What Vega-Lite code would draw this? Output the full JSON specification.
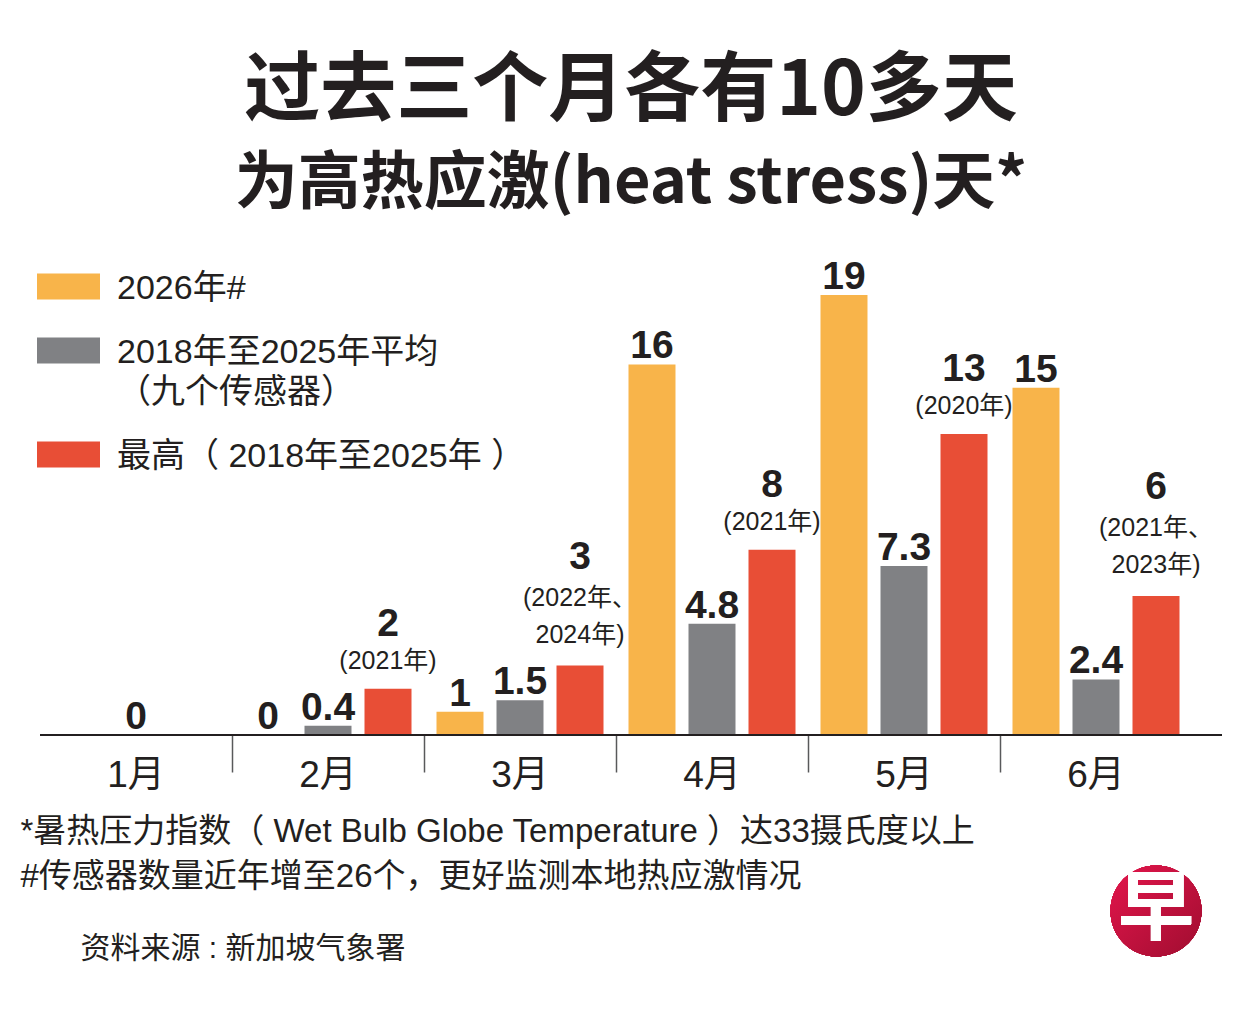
{
  "$schema": "https://vega.github.io/schema/vega-lite/v6.json",
  "width": 1182,
  "height": 440,
  "autosize": {"type": "none"},
  "padding": {"left": 40, "top": 295, "right": 29, "bottom": 276},
  "background": "white",
  "config": {"view": {"stroke": null}},
  "title": {
    "text": "过去三个月各有10多天",
    "subtitle": "为高热应激(heat stress)天*",
    "anchor": "middle",
    "frame": "group",
    "offset": 38,
    "font": "Noto Sans CJK SC",
    "fontSize": 76,
    "fontWeight": "bold",
    "color": "#231F20",
    "subtitleFont": "Noto Sans CJK SC",
    "subtitleFontSize": 63,
    "subtitleFontWeight": "bold",
    "subtitleColor": "#231F20",
    "subtitlePadding": 22
  },
  "data": {
    "values": [
      {"month": "1月", "series": "avg", "days": 0},
      {"month": "2月", "series": "2026", "days": 0},
      {"month": "2月", "series": "avg", "days": 0.4},
      {"month": "2月", "series": "max", "days": 2, "note": "(2021年)"},
      {"month": "3月", "series": "2026", "days": 1},
      {"month": "3月", "series": "avg", "days": 1.5},
      {"month": "3月", "series": "max", "days": 3, "note": "(2022年、\n2024年)"},
      {"month": "4月", "series": "2026", "days": 16},
      {"month": "4月", "series": "avg", "days": 4.8},
      {"month": "4月", "series": "max", "days": 8, "note": "(2021年)"},
      {"month": "5月", "series": "2026", "days": 19},
      {"month": "5月", "series": "avg", "days": 7.3},
      {"month": "5月", "series": "max", "days": 13, "note": "(2020年)"},
      {"month": "6月", "series": "2026", "days": 15},
      {"month": "6月", "series": "avg", "days": 2.4},
      {"month": "6月", "series": "max", "days": 6, "note": "(2021年、\n2023年)"}
    ]
  },
  "encoding": {
    "x": {
      "field": "month",
      "type": "ordinal",
      "scale": {"domain": ["1月", "2月", "3月", "4月", "5月", "6月"], "range": [0, 1152], "paddingInner": 0, "paddingOuter": 0},
      "axis": {
        "domain": false,
        "bandPosition": 0,
        "tickSize": 37,
        "tickColor": "#58595B",
        "tickWidth": 1.5,
        "tickOpacity": {"expr": "datum.value == '1月' ? 0 : 1"},
        "labelPadding": -15,
        "labelFont": "Liberation Sans, Noto Sans CJK SC",
        "labelFontSize": 37,
        "labelColor": "#231F20",
        "labelAngle": 0,
        "title": ["*暑热压力指数（ Wet Bulb Globe Temperature ）达33摄氏度以上", "#传感器数量近年增至26个，更好监测本地热应激情况"],
        "titleAnchor": "start",
        "titleAlign": "left",
        "titleBaseline": "top",
        "titleX": -20,
        "titleY": 80,
        "titleFont": "Liberation Sans, Noto Sans CJK SC",
        "titleFontSize": 33,
        "titleFontWeight": "normal",
        "titleLineHeight": 45,
        "titleColor": "#231F20"
      }
    },
    "xOffset": {
      "field": "series",
      "type": "nominal",
      "scale": {"domain": ["2026", "avg", "max"], "paddingInner": 0.2167, "paddingOuter": 0.2083}
    },
    "y": {
      "field": "days",
      "type": "quantitative",
      "scale": {"domain": [0, 19], "nice": false, "zero": true},
      "axis": {
        "domain": false,
        "ticks": false,
        "labels": false,
        "grid": false,
        "title": "资料来源 : 新加坡气象署",
        "titleAngle": 0,
        "titleAlign": "left",
        "titleBaseline": "middle",
        "titleX": 40,
        "titleY": 653,
        "titleFont": "Liberation Sans, Noto Sans CJK SC",
        "titleFontSize": 30,
        "titleFontWeight": "normal",
        "titleColor": "#231F20"
      }
    }
  },
  "layer": [
    {
      "mark": {"type": "bar"},
      "encoding": {
        "color": {
          "field": "series",
          "type": "nominal",
          "scale": {"domain": ["2026", "avg", "max"], "range": ["#F8B44A", "#808184", "#E84E36"]},
          "legend": {
            "orient": "none",
            "legendX": -3,
            "legendY": -40,
            "title": null,
            "symbolType": "M-1,-0.41L1,-0.41L1,0.41L-1,0.41Z",
            "symbolSize": 3969,
            "symbolStrokeWidth": 0,
            "symbolOpacity": 1,
            "labelOffset": 17,
            "labelFont": "Liberation Sans, Noto Sans CJK SC",
            "labelFontSize": 34,
            "labelColor": "#231F20",
            "labelLimit": 0,
            "labelBaseline": "alphabetic",
            "rowPadding": 13,
            "labelExpr": "datum.value == '2026' ? '2026年#' : datum.value == 'avg' ? ['2018年至2025年平均', '（九个传感器）'] : '最高（ 2018年至2025年 ）'",
            "encode": {
              "symbols": {"update": {"fill": {"signal": "datum.value == '2026' ? '#F4931F' : datum.value == 'avg' ? '#808184' : '#E84E36'"}}},
              "labels": {"update": {"dy": {"value": 12}, "lineHeight": {"value": 40}}}
            }
          }
        }
      }
    },
    {
      "transform": [{"filter": "!isValid(datum.note)"}],
      "mark": {"type": "text", "baseline": "alphabetic", "dy": -6, "font": "Liberation Sans, Noto Sans CJK SC", "fontSize": 39, "fontWeight": "bold", "color": "#231F20"},
      "encoding": {"text": {"field": "days", "type": "quantitative"}}
    },
    {
      "transform": [{"filter": "isValid(datum.note) && indexof(datum.note, '\\n') < 0"}],
      "mark": {"type": "text", "baseline": "alphabetic", "dy": -53, "font": "Liberation Sans, Noto Sans CJK SC", "fontSize": 39, "fontWeight": "bold", "color": "#231F20"},
      "encoding": {"text": {"field": "days", "type": "quantitative"}}
    },
    {
      "transform": [{"filter": "isValid(datum.note) && indexof(datum.note, '\\n') >= 0"}],
      "mark": {"type": "text", "baseline": "alphabetic", "dy": -97, "font": "Liberation Sans, Noto Sans CJK SC", "fontSize": 39, "fontWeight": "bold", "color": "#231F20"},
      "encoding": {"text": {"field": "days", "type": "quantitative"}}
    },
    {
      "transform": [{"filter": "isValid(datum.note) && indexof(datum.note, '\\n') < 0"}],
      "mark": {"type": "text", "baseline": "bottom", "dy": -15, "font": "Liberation Sans, Noto Sans CJK SC", "fontSize": 25, "color": "#231F20"},
      "encoding": {"text": {"field": "note", "type": "nominal"}}
    },
    {
      "transform": [{"filter": "isValid(datum.note) && indexof(datum.note, '\\n') >= 0"}],
      "mark": {"type": "text", "baseline": "bottom", "dy": -55, "lineBreak": "\n", "lineHeight": 37, "font": "Liberation Sans, Noto Sans CJK SC", "fontSize": 25, "color": "#231F20"},
      "encoding": {"text": {"field": "note", "type": "nominal"}}
    },
    {
      "mark": {"type": "rule", "color": "#231F20", "strokeWidth": 2},
      "encoding": {"y": {"datum": 0}, "x": null, "xOffset": null}
    },
    {
      "mark": {
        "type": "circle",
        "size": 8300,
        "opacity": 1,
        "color": {"gradient": "linear", "x1": 0, "y1": 0, "x2": 1, "y2": 1, "stops": [{"offset": 0, "color": "#E3164C"}, {"offset": 1, "color": "#A00D30"}]}
      },
      "encoding": {"x": {"datum": "6月"}, "xOffset": {"datum": "max"}, "y": {"datum": -7.6}}
    },
    {
      "mark": {"type": "text", "text": "早", "font": "Noto Sans CJK SC", "fontSize": 76, "fontWeight": "bold", "color": "white", "baseline": "middle"},
      "encoding": {"x": {"datum": "6月"}, "xOffset": {"datum": "max"}, "y": {"datum": -7.6}}
    }
  ]
}
